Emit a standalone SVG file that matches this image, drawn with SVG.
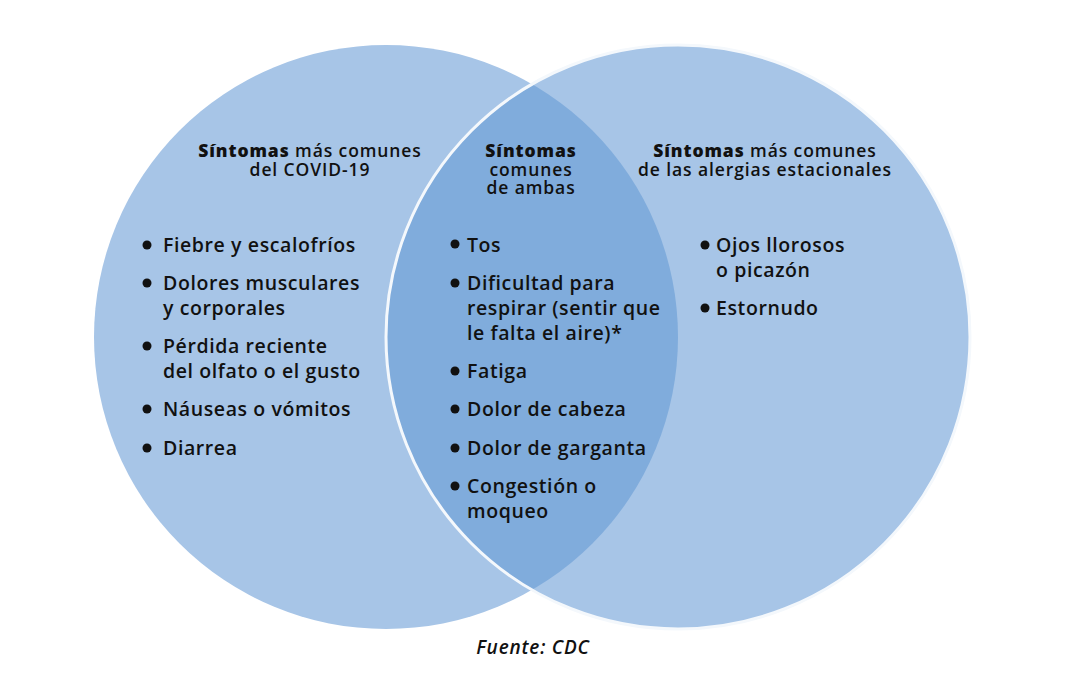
<svg xmlns="http://www.w3.org/2000/svg" width="1067" height="673" viewBox="0 0 1067 673">
<style>
.t{font-family:"Open Sans","Liberation Sans",sans-serif;font-size:19.5px;font-weight:600;letter-spacing:0.6px;fill:#111}
.h{font-family:"Open Sans","Liberation Sans",sans-serif;font-size:17.5px;font-weight:600;letter-spacing:0.9px;fill:#111;text-anchor:middle}
.b{font-weight:800}
.f{font-family:"Open Sans","Liberation Sans",sans-serif;font-size:19px;font-style:italic;font-weight:600;letter-spacing:0.8px;fill:#111;text-anchor:middle}
.dot{fill:#111}
</style>
<defs>
<clipPath id="rc"><circle cx="678" cy="337" r="292"/></clipPath>
</defs>
<rect width="1067" height="673" fill="#fff"/>
<g id="covid">
<circle cx="386" cy="337" r="292" fill="#a7c5e7"/>
</g>
<g id="alergias">
<circle cx="678" cy="337" r="292" fill="#a7c5e7"/>
</g>
<g id="ambas">
<circle cx="386" cy="337" r="292" fill="#80acdc" clip-path="url(#rc)"/>
<circle cx="678" cy="337" r="292" fill="none" stroke="#f4f8fc" stroke-width="3"/>
</g>
<g id="connectors"></g>
<g id="covid-text">
<text class="h" x="310" y="157"><tspan class="b">Síntomas</tspan> más comunes</text>
<text class="h" x="310" y="176">del COVID-19</text>
<circle class="dot" cx="147" cy="245" r="4.5"/>
<text class="t" x="163" y="252">Fiebre y escalofríos</text>
<circle class="dot" cx="147" cy="283" r="4.5"/>
<text class="t" x="163" y="290">Dolores musculares</text>
<text class="t" x="163" y="315">y corporales</text>
<circle class="dot" cx="147" cy="346" r="4.5"/>
<text class="t" x="163" y="353">Pérdida reciente</text>
<text class="t" x="163" y="378">del olfato o el gusto</text>
<circle class="dot" cx="147" cy="409" r="4.5"/>
<text class="t" x="163" y="416">Náuseas o vómitos</text>
<circle class="dot" cx="147" cy="448" r="4.5"/>
<text class="t" x="163" y="455">Diarrea</text>
</g>
<g id="ambas-text">
<text class="h" x="531" y="157"><tspan class="b">Síntomas</tspan></text>
<text class="h" x="531" y="176">comunes</text>
<text class="h" x="531" y="194">de ambas</text>
<circle class="dot" cx="455" cy="244" r="4.5"/>
<text class="t" x="467" y="252">Tos</text>
<circle class="dot" cx="455" cy="283" r="4.5"/>
<text class="t" x="467" y="290">Dificultad para</text>
<text class="t" x="467" y="315">respirar (sentir que</text>
<text class="t" x="467" y="340">le falta el aire)*</text>
<circle class="dot" cx="455" cy="371" r="4.5"/>
<text class="t" x="467" y="378">Fatiga</text>
<circle class="dot" cx="455" cy="409" r="4.5"/>
<text class="t" x="467" y="416">Dolor de cabeza</text>
<circle class="dot" cx="455" cy="448" r="4.5"/>
<text class="t" x="467" y="455">Dolor de garganta</text>
<circle class="dot" cx="455" cy="486" r="4.5"/>
<text class="t" x="467" y="493">Congestión o</text>
<text class="t" x="467" y="518">moqueo</text>
</g>
<g id="alergias-text">
<text class="h" x="765" y="157"><tspan class="b">Síntomas</tspan> más comunes</text>
<text class="h" x="765" y="176">de las alergias estacionales</text>
<circle class="dot" cx="705" cy="245" r="4.5"/>
<text class="t" x="716" y="252">Ojos llorosos</text>
<text class="t" x="716" y="277">o picazón</text>
<circle class="dot" cx="705" cy="308" r="4.5"/>
<text class="t" x="716" y="315">Estornudo</text>
</g>
<text class="f" x="533" y="654">Fuente: CDC</text>
</svg>
